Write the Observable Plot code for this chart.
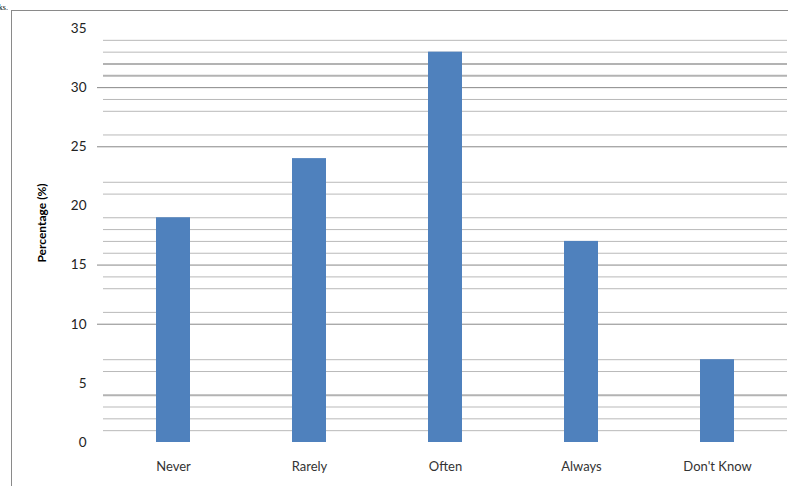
<!DOCTYPE html>
<html>
<head>
<meta charset="utf-8">
<script src="https://cdn.jsdelivr.net/npm/d3@7"></script>
<script src="https://cdn.jsdelivr.net/npm/@observablehq/plot@0.6"></script>
<style>
  html, body { margin: 0; padding: 0; background: #fff; }
  #chart { position: relative; width: 792px; height: 486px; overflow: hidden; }
</style>
</head>
<body>
<div id="chart"></div>
<script>
const categories = ["Never", "Rarely", "Often", "Always", "Don't Know"];
const values = [19, 24, 33, 17, 7];
const yTickLabels = [0, 5, 10, 15, 20, 25, 30, 35];
const majorGrid = [10, 15, 25, 30];
const thickGrid = [4, 31, 32];
const minorGrid = [1, 2, 3, 6, 7, 11, 13, 14, 16, 17, 18, 19, 21, 22, 26, 28, 29, 33, 34];

const data = categories.map((c, i) => ({category: c, value: values[i]}));
const font = "Lato, 'Open Sans', sans-serif";

const plot = Plot.plot({
  width: 792,
  height: 486,
  marginLeft: 103,
  marginRight: 5,
  marginTop: 28,
  marginBottom: 44,
  style: {fontFamily: font, fontSize: "13px", background: "transparent"},
  x: {domain: categories, paddingInner: 0.752, paddingOuter: 0.376, label: null},
  y: {domain: [0, 35], label: null},
  marks: [
    Plot.ruleY(minorGrid, {stroke: "#b9b9b9", strokeWidth: 1}),
    Plot.ruleY(thickGrid, {stroke: "#b3b3b3", strokeWidth: 2}),
    Plot.ruleY(majorGrid, {stroke: "#878787", strokeWidth: 1}),
    Plot.barY(data, {x: "category", y: "value", fill: "#4f81bd"}),
    Plot.axisY({ticks: majorGrid, tickSize: 6, text: null, stroke: "#878787", label: null}),
    Plot.axisY({ticks: yTickLabels, tickSize: 0, tickPadding: 17, fill: "#222", fontSize: 13.5, label: null}),
    Plot.axisX({tickSize: 0, tickPadding: 19, fill: "#333", fontSize: 13, label: null}),
    Plot.ruleX([0], {x: () => 0, frameAnchor: "left", stroke: "#aaaaaa", strokeWidth: 2, y1: 0, y2: 35})
  ]
});

document.getElementById("chart").appendChild(plot);

const svg = d3.select(plot);
// outer document frame
svg.append("line").attr("x1", 11.5).attr("x2", 11.5).attr("y1", 10).attr("y2", 486)
  .attr("stroke", "#8a8a8a").attr("stroke-width", 1);
svg.append("line").attr("x1", 11).attr("x2", 788).attr("y1", 10.5).attr("y2", 10.5)
  .attr("stroke", "#8a8a8a").attr("stroke-width", 1);
// document text fragment at top
svg.append("text").attr("x", 2).attr("y", 9.5).text("rks.")
  .attr("font-family", "'Liberation Serif', serif").attr("font-size", 8).attr("fill", "#000");
// y-axis title
svg.append("text").attr("transform", "translate(46,223) rotate(-90)")
  .attr("text-anchor", "middle").attr("font-family", font).attr("font-weight", "bold")
  .attr("font-size", 12).attr("fill", "#000").text("Percentage (%)");
</script>
</body>
</html>
